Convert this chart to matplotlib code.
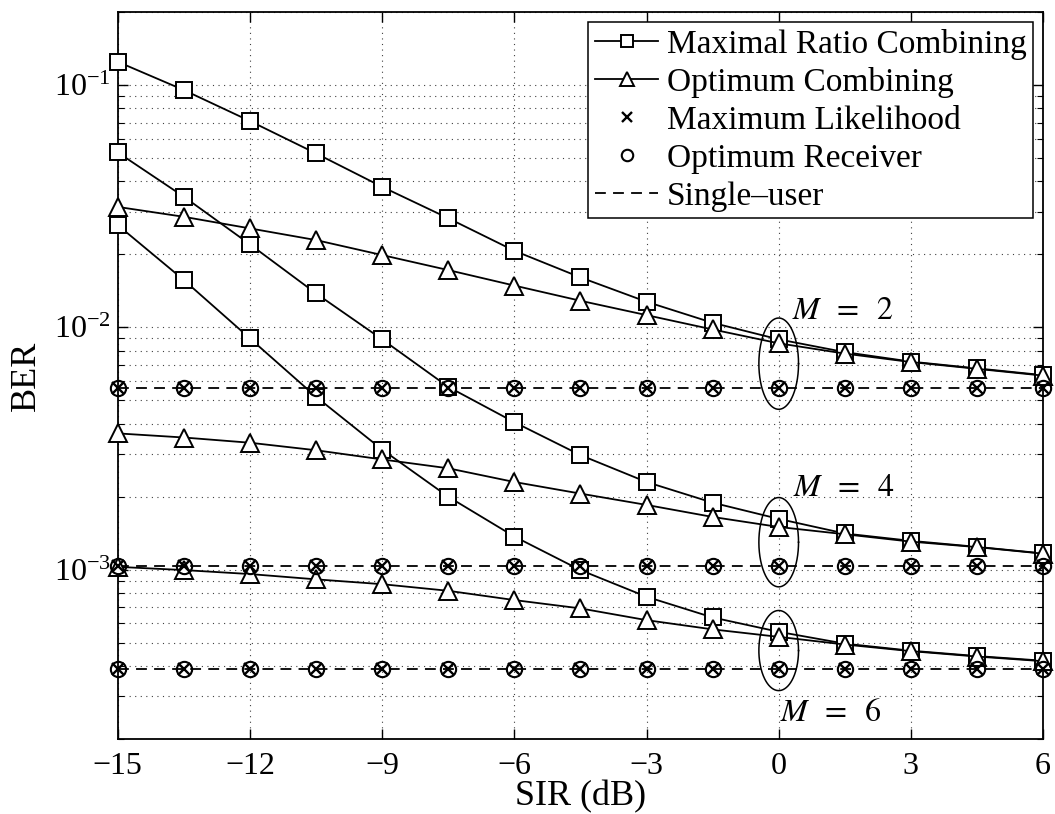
import numpy as np
import matplotlib
matplotlib.use('Agg')
import matplotlib.pyplot as plt

plt.rcParams['font.family'] = ['Liberation Serif', 'DejaVu Serif']
plt.rcParams['mathtext.fontset'] = 'stix'

# SIR points (dB)
sir = [-15, -13.5, -12, -10.5, -9, -7.5, -6, -4.5, -3, -1.5, 0, 1.5, 3, 4.5, 6]
M_values = [2, 4, 6]

# BER curves
mrc_m2 = [0.1247, 0.0953, 0.0710, 0.0522, 0.0380, 0.0282, 0.0207, 0.01607, 0.01275,
          0.01044, 0.00892, 0.00790, 0.00722, 0.00677, 0.00635]
oc_m2 = [0.0314, 0.02858, 0.02560, 0.02291, 0.01987, 0.01723, 0.01487, 0.01287, 0.01123,
         0.00980, 0.00859, 0.00779, 0.00719, 0.00674, 0.00632]
mrc_m4 = [0.0527, 0.0346, 0.0220, 0.01380, 0.00892, 0.00568, 0.00406, 0.00297, 0.00230,
          0.00189, 0.00162, 0.00141, 0.001315, 0.001242, 0.001167]
oc_m4 = [0.00365, 0.00351, 0.00334, 0.00311, 0.00285, 0.00262, 0.00230, 0.00206, 0.00185,
         0.00165, 0.00150, 0.00140, 0.001305, 0.001239, 0.001164]
mrc_m6 = [0.02642, 0.01567, 0.00900, 0.00517, 0.00313, 0.00200, 0.00137, 0.000996, 0.000773,
          0.000635, 0.000554, 0.000495, 0.000463, 0.000440, 0.000421]
oc_m6 = [0.001027, 0.000996, 0.000959, 0.000912, 0.000871, 0.000818, 0.000749, 0.000692,
         0.000619, 0.000567, 0.000528, 0.000491, 0.000461, 0.000438, 0.000419]
single_user = [5.62e-3, 1.04e-3, 3.88e-4]

# annotation anchors (x in dB, BER)
label_pos = [(0.30, 0.01159), (0.33, 0.00216), (0.03, 2.56e-4)]

mrc_all = [mrc_m2, mrc_m4, mrc_m6]
oc_all = [oc_m2, oc_m4, oc_m6]

fig = plt.figure(figsize=(10.55, 8.14), dpi=100)
ax = fig.add_axes([0.1116, 0.0921, 0.8771, 0.8931])

sir = np.array(sir)
for i, M in enumerate(M_values):
    first = (i == 0)
    su = np.full(len(sir), single_user[i])
    ax.plot(sir, su, '--', color='k', lw=1.3, dashes=(6, 4), clip_on=False,
            label='Single\u2013user' if first else '_nolegend_', zorder=3)
    ax.plot(sir, mrc_all[i], '-s', color='k', lw=1.3, ms=11, mfc='white', mew=1.4,
            clip_on=False, label='Maximal Ratio Combining' if first else '_nolegend_', zorder=4)
    ax.plot(sir, oc_all[i], '-^', color='k', lw=1.3, ms=13, mfc='white', mew=1.4,
            clip_on=False, label='Optimum Combining' if first else '_nolegend_', zorder=5)
    ax.plot(sir, su, 'x', color='k', ms=9, mew=1.7, ls='none', clip_on=False,
            label='Maximum Likelihood' if first else '_nolegend_', zorder=6)
    ax.plot(sir, su, 'o', color='k', ms=11, mfc='none', mew=1.5, ls='none', clip_on=False,
            label='Optimum Receiver' if first else '_nolegend_', zorder=6)

    # ellipse around the x = 0 points
    k = list(sir).index(0)
    top = np.log10(mrc_all[i][k])
    bot = np.log10(single_user[i])
    cy = (top + bot) / 2
    b = (top - bot) / 2 + 0.088
    t = np.linspace(0, 2 * np.pi, 300)
    ax.plot(0 + 0.45 * np.cos(t), 10 ** (cy + b * np.sin(t)), color='k', lw=1.1, zorder=7)

    ax.text(label_pos[i][0], label_pos[i][1], r'$M\;\;=\;\;%d$' % M, fontsize=23,
            ha='left', va='center')

ax.set_yscale('log')
ax.set_xlim(-15, 6)
ax.set_ylim(2e-4, 2e-1)
ax.set_xticks([-15, -12, -9, -6, -3, 0, 3, 6])

ax.grid(True, which='major', color='0.25', ls=(0, (1, 4)), lw=0.8)
ax.grid(True, which='minor', axis='y', color='0.25', ls=(0, (1, 4)), lw=0.8)
ax.tick_params(which='both', direction='in', top=True, right=True, labelsize=23)
ax.tick_params(which='major', length=7, width=1)
ax.tick_params(which='minor', length=4, width=0.8)
ax.tick_params(axis='x', pad=9)
ax.tick_params(axis='y', pad=5)
for s in ax.spines.values():
    s.set_linewidth(1.3)

ax.set_xlabel('SIR (dB)', fontsize=26, labelpad=0)
ax.set_ylabel('BER', fontsize=26, labelpad=8)

handles, labels = ax.get_legend_handles_labels()
order = ['Maximal Ratio Combining', 'Optimum Combining', 'Maximum Likelihood',
         'Optimum Receiver', 'Single\u2013user']
hmap = dict(zip(labels, handles))
leg = ax.legend([hmap[o] for o in order], order, loc='upper right', fontsize=24,
                fancybox=False, edgecolor='k', framealpha=1, borderaxespad=0.3,
                handlelength=1.9, handletextpad=0.25, labelspacing=0.22,
                borderpad=0.2, markerscale=0.75)
leg.get_frame().set_linewidth(1.1)

fig.savefig('out.png', dpi=100)
